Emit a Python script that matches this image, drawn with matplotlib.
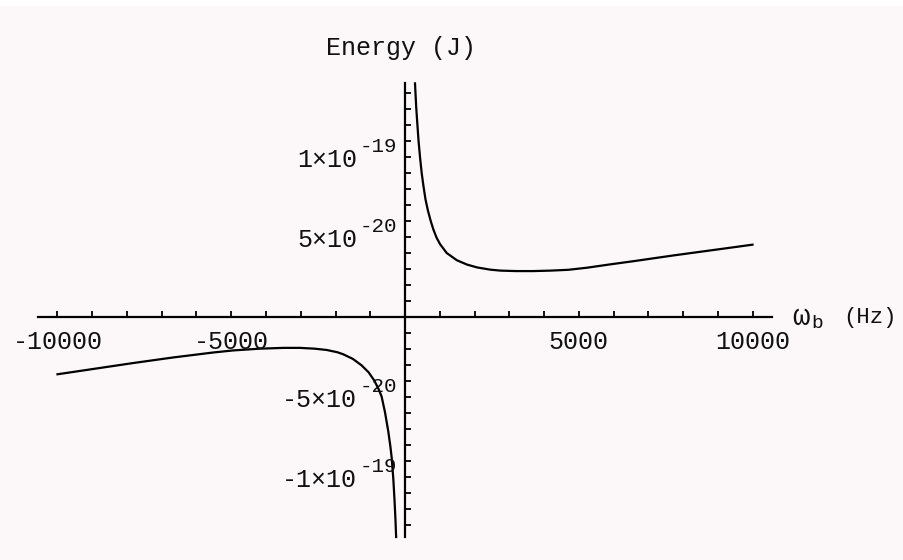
import numpy as np
import matplotlib
matplotlib.use("Agg")
import matplotlib.pyplot as plt
from matplotlib.patches import Rectangle

# energy curve E(w_b), energies in units of 1e-20 J
w_pos = [288, 320, 354, 390, 432, 480, 530, 590, 660, 740, 820, 910, 1010, 1200,
         1490, 1780, 2070, 2450, 2740, 3200, 3700, 4200, 4700, 5236, 5908, 6580,
         7156, 7732, 8308, 8885, 9461, 10000]
e_pos = [14.6, 13.2, 12.1, 11.0, 10.0, 9.0, 8.2, 7.35, 6.65, 6.0, 5.45, 4.95, 4.55,
         4.0, 3.55, 3.28, 3.1, 2.96, 2.9, 2.87, 2.87, 2.9, 2.95, 3.08, 3.29, 3.49,
         3.67, 3.85, 4.02, 4.19, 4.36, 4.52]

w_neg = [-10000, -8885, -7830, -6677, -5524, -4947, -4179, -3500, -3026, -2600,
         -2256, -1950, -1778, -1500, -1250, -1050, -890, -760, -672, -576, -481,
         -420, -383, -337, -300, -274, -255]
e_neg = [-3.58, -3.22, -2.88, -2.53, -2.22, -2.09, -1.98, -1.93, -1.93, -1.98,
         -2.06, -2.2, -2.33, -2.62, -3.02, -3.45, -3.95, -4.5, -4.98, -5.95, -7.15,
         -8.1, -8.8, -10.1, -11.5, -12.7, -13.75]

x_ticklabels = {-10000: "-10000", -5000: "-5000", 5000: "5000", 10000: "10000"}
y_ticklabels = {10: ("1\u00d710", "-19"), 5: ("5\u00d710", "-20"),
                -5: ("-5\u00d710", "-20"), -10: ("-1\u00d710", "-19")}

unit = 1e-20
mono = ["Liberation Mono", "DejaVu Sans Mono"]
ink = "#111111"

fig = plt.figure(figsize=(9.04, 5.6), dpi=100, facecolor="#fcf7f9")
fig.patches.append(Rectangle((0, 1 - 6 / 560), 1, 6 / 560, transform=fig.transFigure,
                             facecolor="white", edgecolor="none", zorder=0))
ax = fig.add_axes([0, 0, 1, 1])
ax.set_facecolor("none")

# 34.75 px per 1000 Hz, 16 px per 1e-20 J, origin at pixel (405, 317)
ax.set_xlim(-405 / 0.03475, 499 / 0.03475)
ax.set_ylim(-243 / 16 * unit, 317 / 16 * unit)

ax.plot(w_pos, np.array(e_pos) * unit, color="black", lw=1.6)
ax.plot(w_neg, np.array(e_neg) * unit, color="black", lw=1.6)

for side in ["top", "right"]:
    ax.spines[side].set_visible(False)
ax.spines["left"].set_position(("data", 0))
ax.spines["bottom"].set_position(("data", 0))
ax.spines["bottom"].set_bounds(-10560, 10560)
ax.spines["left"].set_bounds(-13.75 * unit, 14.63 * unit)
for side in ["left", "bottom"]:
    ax.spines[side].set_linewidth(1.6)
    ax.spines[side].set_color("black")

ax.set_xticks(np.arange(-10000, 10001, 1000))
ax.set_yticks(np.arange(-13, 15) * unit)
ax.tick_params(direction="in", length=4, width=1.3, color="black",
               labelbottom=False, labelleft=False)

for w, lab in x_ticklabels.items():
    ax.annotate(lab, (w, 0), xytext=(0, -25), textcoords="offset pixels",
                ha="center", va="center", fontsize=18, family=mono, color=ink)

for e, (base, expo) in y_ticklabels.items():
    ax.annotate(base, (0, e * unit), xytext=(-48, -3), textcoords="offset pixels",
                ha="right", va="center", fontsize=18, family=mono, color=ink)
    ax.annotate(expo, (0, e * unit), xytext=(-45, 11), textcoords="offset pixels",
                ha="left", va="center", fontsize=15, family=mono, color=ink)

fig.text(401 / 904, 1 - 48 / 560, "Energy (J)", ha="center", va="center",
         fontsize=18, family=mono, color=ink)
fig.text(792 / 904, 1 - 317 / 560, "\u03c9", ha="left", va="center",
         fontsize=21, family=mono, color=ink)
fig.text(811 / 904, 1 - 324 / 560, "b", ha="left", va="center",
         fontsize=14, family=mono, color=ink)
fig.text(843 / 904, 1 - 318 / 560, "(Hz)", ha="left", va="center",
         fontsize=16, family=mono, color=ink)

fig.savefig("out.png", dpi=100, facecolor=fig.get_facecolor())
